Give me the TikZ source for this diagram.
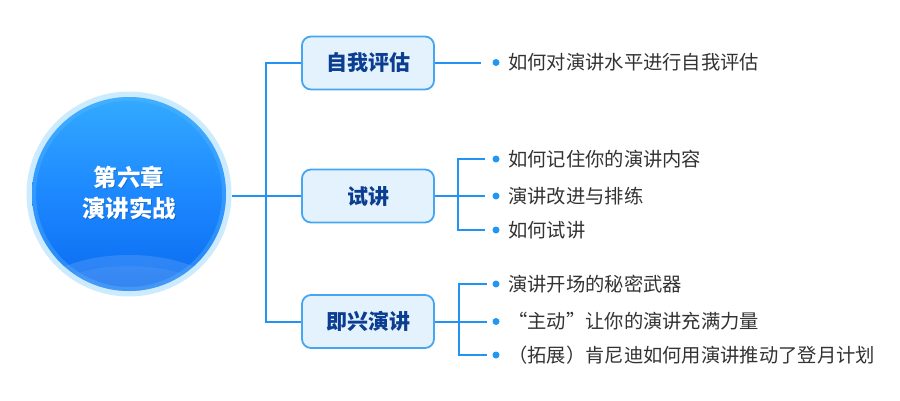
\documentclass[tikz,border=0pt]{standalone}
\usepackage{fontspec}
\setmainfont{Noto Sans CJK SC}
\usetikzlibrary{shapes.geometric}
\definecolor{linec}{HTML}{2193F2}
\definecolor{dotc}{HTML}{2196F3}
\definecolor{boxdraw}{HTML}{46A6F2}
\definecolor{boxfill}{HTML}{E3F2FD}
\definecolor{boxtext}{HTML}{0B3D91}
\definecolor{itemtext}{HTML}{333333}
\definecolor{ringc}{HTML}{CDEBFE}
\definecolor{ctop}{HTML}{33AAFF}
\definecolor{cmid}{HTML}{1D88FF}
\definecolor{cbot}{HTML}{0A6BF0}
\definecolor{glowc}{HTML}{5DB9FF}
\tikzset{
  conn/.style={draw=linec, line width=2pt},
  topicbox/.style={draw=boxdraw, fill=boxfill, line width=1.8pt, rounded corners=9pt,
    minimum width=132pt, minimum height=53pt, inner sep=0pt,
    text=boxtext, font=\fontsize{21}{21}\selectfont\bfseries},
  itemtxt/.style={anchor=west, inner sep=0pt, text=itemtext, font=\fontsize{19.3}{19.3}\selectfont},
  bulletdot/.style={circle, fill=dotc, minimum size=7pt, inner sep=0pt},
  centertxt/.style={font=\fontsize{23.5}{31}\selectfont\bfseries, align=center},
}
\begin{document}
\begin{tikzpicture}[x=1pt,y=-1pt]
\useasboundingbox (0,0) rectangle (900,400);
% central circle
\node[circle, fill=ringc, minimum size=205pt, inner sep=0pt] (circ) at (129,194) {};
\shade[top color=ctop, bottom color=cbot, middle color=cmid] (129,194) circle (97);
\begin{scope}
  \clip (129,194) circle (97);
  \fill[white, opacity=0.13] (129,302) ellipse (98 and 47);
  \fill[white, opacity=0.06] (129,306) ellipse (90 and 40);
\end{scope}
\draw[glowc, opacity=0.35, line width=4pt] (129,194) circle (95);
\node[centertxt, text=black, opacity=0.18] at (130.2,194.2) {第六章\\演讲实战};
\node[centertxt, text=white] (ctext) at (129,193) {第六章\\演讲实战};

% topic boxes
\node[topicbox] (b1) at (368,63) {自我评估};
\node[topicbox] (b2) at (368,196) {试讲};
\node[topicbox] (b3) at (368,321.5) {即兴演讲};

% trunk
\coordinate (j) at (266,196);
\draw[conn] (j -| circ.east) -- (j);
\draw[conn] (b1.west) -| (j) |- (b3.west);
\draw[conn] (j) -- (b2.west);

% group 1
\coordinate (e1) at (481,63);
\draw[conn] (b1.east) -- (e1);
\node[bulletdot] (d1) at (496,62.5) {};
\node[itemtxt] (t1) at (508,62) {如何对演讲水平进行自我评估};

% group 2
\coordinate (k2) at (458,196);
\coordinate (e21) at (485,159);
\coordinate (e22) at (485,196);
\coordinate (e23) at (485,230);
\draw[conn] (b2.east) -- (k2);
\draw[conn] (e21) -| (k2) |- (e23);
\draw[conn] (k2) -- (e22);
\node[bulletdot] (d21) at (496,159) {};
\node[bulletdot] (d22) at (496,196) {};
\node[bulletdot] (d23) at (496,230) {};
\node[itemtxt] (t21) at (508,159) {如何记住你的演讲内容};
\node[itemtxt] (t22) at (508,196) {演讲改进与排练};
\node[itemtxt] (t23) at (508,230) {如何试讲};

% group 3
\coordinate (k3) at (459,321.5);
\coordinate (e31) at (487,284);
\coordinate (e32) at (487,321.5);
\coordinate (e33) at (487,355);
\draw[conn] (b3.east) -- (k3);
\draw[conn] (e31) -| (k3) |- (e33);
\draw[conn] (k3) -- (e32);
\node[bulletdot] (d31) at (496,284) {};
\node[bulletdot] (d32) at (496,321.5) {};
\node[bulletdot] (d33) at (496,355) {};
\node[itemtxt] (t31) at (508,284) {演讲开场的秘密武器};
\node[itemtxt] (t32) at (508,321) {“主动”让你的演讲充满力量};
\node[itemtxt] (t33) at (508,355) {（拓展）肯尼迪如何用演讲推动了登月计划};
\end{tikzpicture}
\end{document}
